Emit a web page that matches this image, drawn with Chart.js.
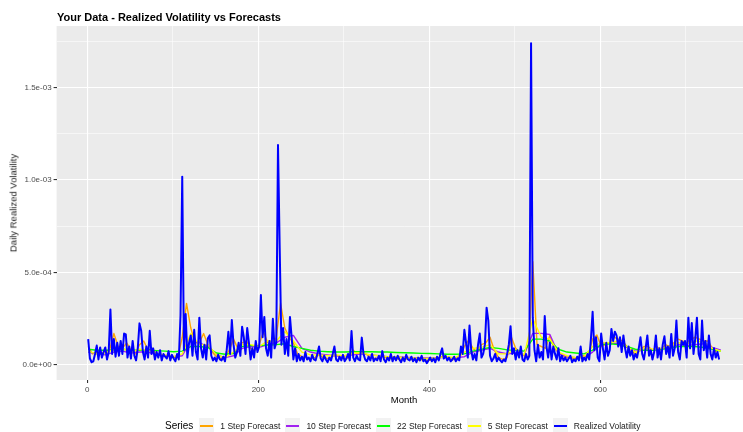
<!DOCTYPE html>
<html lang="en">
<head>
<meta charset="UTF-8" />
<title>Realized Volatility vs Forecasts</title>
<script src="https://cdn.jsdelivr.net/npm/chart.js"></script>
<style>
  body { margin: 0; background: #ffffff; font-family: "Liberation Sans", Arial, sans-serif; }
  #wrap { position: relative; width: 743px; height: 432px; overflow: hidden; }
  #box { position: absolute; left: 0; top: 0; width: 760px; height: 432px; }
  .title { position: absolute; left: 57px; top: 10.5px; line-height: 12px; font-size: 11px; font-weight: bold; color: #000; white-space: nowrap; }
  .ytitle { position: absolute; left: 13px; top: 203px; font-size: 9.5px; font-weight: normal; color: #1a1a1a; white-space: nowrap; transform: translate(-50%, -50%) rotate(-90deg); }
  .xtitle { position: absolute; left: 404px; top: 399px; font-size: 9.5px; color: #000; transform: translate(-50%, -50%); }
  .legend { position: absolute; left: 165px; top: 418px; height: 15px; display: flex; align-items: center; font-size: 8.5px; color: #1a1a1a; white-space: nowrap; }
  .legend .lt { font-size: 10px; color: #000; margin-right: 6px; }
  .legend .key { width: 15px; height: 15px; background: #f2f2f2; position: relative; margin-right: 6px; }
  .legend .key span { position: absolute; left: 1px; right: 1px; top: 7px; height: 1.5px; }
  .legend .lab { margin-right: 5px; }
</style>
</head>
<body>
<div id="wrap">
  <div id="box"><canvas id="volChart"></canvas></div>
  <div class="title">Your Data - Realized Volatility vs Forecasts</div>
  <div class="ytitle">Daily Realized Volatility</div>
  <div class="xtitle">Month</div>
  <div class="legend" id="legend"></div>
</div>

<script>
  // values are in units of 1e-6
  const UNIT = 1e-6;

  // realized volatility, months 1, 3, 5, ... 739
  const rvMonths = Array.from({ length: 370 }, (_, i) => 1 + 2 * i);
  const realized = [
    140, 35, 15, 20, 60, 105, 30, 95, 40, 70,
    95, 30, 70, 300, 60, 140, 45, 120, 50, 130,
    60, 170, 165, 40, 100, 35, 130, 50, 25, 90,
    225, 185, 70, 30, 100, 40, 185, 60, 90, 30,
    70, 40, 80, 25, 60, 45, 35, 75, 25, 55,
    35, 20, 60, 30, 270, 1018, 80, 275, 40, 120,
    160, 50, 190, 70, 30, 256, 90, 40, 110, 30,
    145, 160, 50, 25, 40, 20, 55, 30, 25, 45,
    20, 80, 180, 60, 243, 110, 40, 70, 120, 50,
    207, 150, 60, 200, 120, 30, 90, 40, 130, 70,
    100, 378, 150, 260, 90, 50, 130, 40, 250, 90,
    120, 1189, 630, 110, 200, 60, 140, 50, 260, 150,
    30, 90, 20, 60, 25, 45, 20, 70, 30, 40,
    20, 55, 30, 25, 60, 100, 35, 20, 50, 30,
    15, 40, 25, 60, 100, 30, 20, 45, 25, 55,
    20, 35, 60, 25, 184, 40, 20, 50, 30, 25,
    148, 60, 30, 20, 45, 25, 60, 20, 35, 25,
    50, 20, 75, 30, 15, 40, 25, 60, 20, 45,
    25, 50, 30, 15, 40, 20, 55, 30, 25, 45,
    20, 35, 15, 40, 25, 50, 20, 30, 10, 25,
    40, 20, 35, 15, 45, 25, 60, 90, 35, 50,
    25, 40, 20, 30, 45, 20, 35, 25, 100, 60,
    190, 120, 40, 213, 80, 30, 60, 25, 110, 170,
    40, 60, 110, 310, 240, 50, 20, 35, 60, 20,
    40, 25, 15, 30, 20, 60, 110, 210, 60, 90,
    30, 80, 40, 100, 30, 20, 60, 30, 50, 1739,
    256, 80, 20, 110, 40, 70, 30, 265, 100, 40,
    120, 30, 100, 60, 30, 90, 20, 50, 25, 40,
    20, 35, 50, 15, 30, 20, 45, 25, 100, 20,
    40, 25, 60, 30, 140, 288, 80, 150, 40, 20,
    170, 90, 30, 120, 50, 80, 195, 130, 180, 160,
    100, 150, 70, 160, 90, 40, 100, 50, 80, 30,
    60, 40, 90, 150, 60, 30, 90, 160, 50, 80,
    30, 70, 160, 40, 90, 30, 110, 155, 60, 100,
    40, 168, 50, 90, 240, 70, 30, 130, 110, 130,
    40, 256, 90, 227, 60, 140, 256, 60, 30, 240,
    80, 130, 40, 160, 60, 30, 90, 40, 70, 30
  ];

  // 1 step forecast, months 1, 6, 11, ... 736
  const step1Months = Array.from({ length: 148 }, (_, i) => 1 + 5 * i);
  const step1 = [
    100, 60, 70, 60, 75, 80, 170, 100, 90, 120,
    80, 60, 110, 130, 80, 90, 60, 55, 50, 45,
    40, 45, 150, 333, 200, 120, 120, 170, 110, 70,
    45, 35, 40, 80, 140, 90, 120, 130, 90, 80,
    110, 180, 120, 110, 150, 333, 200, 150, 120, 60,
    45, 40, 35, 40, 55, 40, 35, 45, 55, 40,
    35, 40, 80, 60, 70, 60, 40, 35, 40, 45,
    35, 35, 35, 30, 35, 30, 30, 25, 30, 25,
    25, 30, 35, 50, 40, 30, 30, 45, 100, 135,
    90, 70, 110, 120, 150, 80, 40, 30, 40, 150,
    90, 70, 50, 40, 558, 110, 100, 90, 160, 90,
    70, 50, 40, 35, 35, 45, 50, 50, 140, 162,
    100, 110, 120, 150, 140, 130, 100, 80, 60, 80,
    100, 100, 80, 100, 80, 110, 100, 120, 140, 130,
    120, 140, 150, 140, 130, 130, 90, 70
  ];

  // 5, 10 and 22 step forecasts, months 1, 11, 21, ... 741
  const smoothMonths = Array.from({ length: 75 }, (_, i) => 1 + 10 * i);
  const step10 = [
    70, 60, 55, 70, 75, 65, 70, 70, 55, 50,
    45, 50, 130, 120, 100, 55, 40, 50, 90, 100,
    95, 110, 120, 150, 160, 90, 70, 60, 55, 50,
    50, 55, 60, 55, 50, 45, 45, 42, 40, 38,
    38, 40, 40, 40, 45, 70, 80, 90, 70, 60,
    65, 55, 171, 171, 165, 60, 45, 40, 40, 70,
    110, 120, 115, 95, 75, 80, 80, 90, 95, 110,
    105, 110, 115, 95, 80
  ];
  const step22 = [
    85, 80, 80, 82, 85, 80, 80, 82, 78, 75,
    72, 75, 100, 100, 95, 65, 58, 62, 100, 105,
    105, 108, 110, 115, 100, 90, 80, 75, 72, 70,
    70, 72, 72, 72, 70, 70, 68, 66, 65, 63,
    62, 60, 58, 58, 60, 75, 85, 95, 90, 82,
    80, 75, 140, 140, 130, 85, 70, 65, 60, 80,
    110, 115, 110, 100, 85, 80, 80, 85, 90, 100,
    100, 100, 95, 85, 75
  ];
  const step5 = [
    75, 60, 65, 85, 90, 70, 85, 80, 60, 55,
    45, 60, 170, 110, 110, 55, 40, 70, 110, 110,
    100, 130, 130, 180, 130, 70, 55, 55, 50, 55,
    50, 65, 65, 55, 50, 45, 45, 40, 38, 35,
    35, 40, 45, 40, 70, 90, 95, 110, 60, 60,
    85, 55, 250, 150, 140, 70, 50, 40, 45, 100,
    120, 120, 130, 100, 70, 90, 85, 90, 100, 120,
    115, 130, 125, 90, 75
  ];

  const seriesNames = ['1 Step Forecast', '10 Step Forecast', '22 Step Forecast', '5 Step Forecast', 'Realized Volatility'];
  const seriesColors = ['#FFA500', '#A020F0', '#00FF00', '#FFFF00', '#0000FF'];

  const xMajor = [0, 200, 400, 600];
  const xTickLabels = ['0', '200', '400', '600'];
  const xMinor = [100, 300, 500, 700];
  const yMajor = [0, 0.0005, 0.001, 0.0015];
  const yTickLabels = ['0.0e+00', '5.0e-04', '1.0e-03', '1.5e-03'];
  const yMinor = [0.00025, 0.00075, 0.00125, 0.00175];

  const toPoints = (months, vals) => vals.map((v, i) => ({ x: months[i], y: v * UNIT }));

  // legend, ggplot style
  const legend = document.getElementById('legend');
  let html = '<span class="lt">Series</span>';
  seriesNames.forEach((name, i) => {
    html += '<span class="key"><span style="background:' + seriesColors[i] + '"></span></span><span class="lab">' + name + '</span>';
  });
  legend.innerHTML = html;

  const panelBg = {
    id: 'panelBg',
    beforeDraw(chart) {
      const { ctx, chartArea: a } = chart;
      ctx.save();
      ctx.fillStyle = '#ebebeb';
      ctx.fillRect(a.left, a.top, a.right - a.left, a.bottom - a.top);
      ctx.restore();
    }
  };

  const isMajor = (list, v) => list.some(m => Math.abs(m - v) < 1e-9);
  const font = { family: '"Liberation Sans", Arial, sans-serif', size: 8 };

  function line(label, data, color, width) {
    return {
      label: label,
      data: data,
      borderColor: color,
      backgroundColor: color,
      borderWidth: width,
      pointRadius: 0,
      tension: 0,
      borderJoinStyle: 'round',
      fill: false
    };
  }

  new Chart(document.getElementById('volChart'), {
    type: 'line',
    data: {
      // first dataset is painted last, so blue stays on top
      datasets: [
        line(seriesNames[4], toPoints(rvMonths, realized), seriesColors[4], 2),
        line(seriesNames[3], toPoints(smoothMonths, step5), seriesColors[3], 1.4),
        line(seriesNames[2], toPoints(smoothMonths, step22), seriesColors[2], 1.4),
        line(seriesNames[1], toPoints(smoothMonths, step10), seriesColors[1], 1.4),
        line(seriesNames[0], toPoints(step1Months, step1), seriesColors[0], 1.4)
      ]
    },
    options: {
      responsive: true,
      maintainAspectRatio: false,
      animation: false,
      layout: { padding: { left: 0, right: 8.4, top: 26, bottom: 26 } },
      plugins: { legend: { display: false }, tooltip: { enabled: false } },
      scales: {
        x: {
          type: 'linear',
          min: -35.95,
          max: 776.95,
          afterFit(s) { s.height = 26; },
          afterBuildTicks(s) { s.ticks = xMajor.concat(xMinor).sort((a, b) => a - b).map(v => ({ value: v })); },
          border: { display: false },
          grid: {
            color: '#ffffff',
            lineWidth: c => (c.tick && isMajor(xMajor, c.tick.value)) ? 1.1 : 0.55,
            tickColor: c => (c.tick && isMajor(xMajor, c.tick.value)) ? '#333333' : 'rgba(0,0,0,0)',
            tickLength: 3
          },
          ticks: {
            autoSkip: false,
            maxRotation: 0,
            padding: 2,
            color: '#4d4d4d',
            font: font,
            callback: v => { const i = xMajor.findIndex(m => Math.abs(m - v) < 1e-9); return i >= 0 ? xTickLabels[i] : ''; }
          }
        },
        y: {
          type: 'linear',
          min: -0.000081,
          max: 0.001832,
          afterFit(s) { s.width = 56.6; },
          afterBuildTicks(s) { s.ticks = yMajor.concat(yMinor).sort((a, b) => a - b).map(v => ({ value: v })); },
          border: { display: false },
          grid: {
            color: '#ffffff',
            lineWidth: c => (c.tick && isMajor(yMajor, c.tick.value)) ? 1.1 : 0.55,
            tickColor: c => (c.tick && isMajor(yMajor, c.tick.value)) ? '#333333' : 'rgba(0,0,0,0)',
            tickLength: 3
          },
          ticks: {
            autoSkip: false,
            padding: 2,
            color: '#4d4d4d',
            font: font,
            callback: v => { const i = yMajor.findIndex(m => Math.abs(m - v) < 1e-12); return i >= 0 ? yTickLabels[i] : ''; }
          }
        }
      }
    },
    plugins: [panelBg]
  });
</script>
</body>
</html>
